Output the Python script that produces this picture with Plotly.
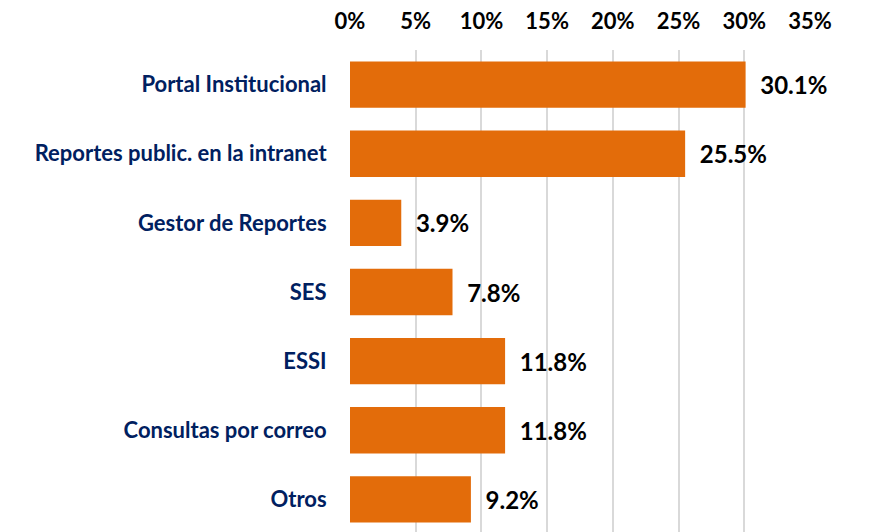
import plotly.graph_objects as go

categories = ["Portal Institucional", "Reportes public. en la intranet", "Gestor de Reportes",
              "SES", "ESSI", "Consultas por correo", "Otros"]
values = [30.1, 25.5, 3.9, 7.8, 11.8, 11.8, 9.2]
tick_vals = [0, 5, 10, 15, 20, 25, 30, 35]
tick_text = ["0%", "5%", "10%", "15%", "20%", "25%", "30%", "35%"]

fig = go.Figure(go.Bar(
    y=categories, x=values, orientation="h",
    marker=dict(color="#E36C0A", line=dict(width=0)),
    text=["\u00a0\u00a0" + f"{v:.1f}%" for v in values], textposition="outside",
    textfont=dict(family="Lato", size=24, color="#000000", weight="bold"),
    cliponaxis=False,
))
fig.update_layout(
    width=884, height=532,
    margin=dict(l=342, r=82, t=42, b=6, autoexpand=False),
    plot_bgcolor="white", paper_bgcolor="white",
    bargap=0.33, showlegend=False,
    font=dict(family="Lato"),
)
fig.update_xaxes(
    side="top", range=[0, 35], tickvals=tick_vals, ticktext=tick_text,
    showgrid=True, gridcolor="#D9D9D9", gridwidth=2, zeroline=False,
    ticks="outside", ticklen=11, tickcolor="rgba(0,0,0,0)", automargin=False,
    tickfont=dict(family="Lato", size=22, color="#000000", weight="bold"),
)
fig.update_yaxes(
    categoryorder="array", categoryarray=categories, autorange="reversed",
    ticks="outside", ticklen=18, tickcolor="rgba(0,0,0,0)", showgrid=False,
    automargin=False,
    tickfont=dict(family="Lato", size=22, color="#002060", weight="bold"),
)
fig.write_html("out.html")
